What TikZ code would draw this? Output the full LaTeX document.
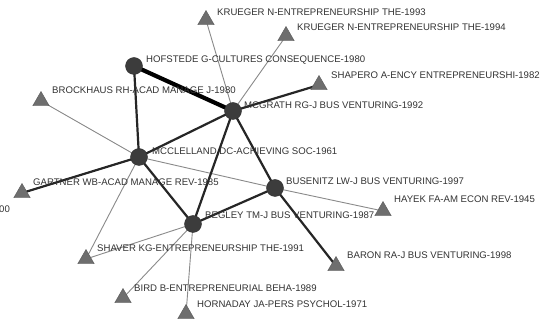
\documentclass[tikz,border=0pt]{standalone}
\usepackage{fontspec}
\setmainfont{Liberation Sans}
\usetikzlibrary{shapes.geometric}
\definecolor{nodegray}{HTML}{3C3C3C}
\definecolor{trigray}{HTML}{6E6E6E}
\definecolor{thinedge}{HTML}{8A8A8A}
\definecolor{labelcol}{HTML}{333333}
\pgfdeclarelayer{paper}
\pgfdeclarelayer{edges}
\pgfsetlayers{paper,edges,main}
\begin{document}
\begin{tikzpicture}[x=1pt,y=-1pt,
  hub/.style={circle,fill=nodegray,draw=nodegray!80!black,inner sep=0pt,minimum size=17pt},
  tri/.style={regular polygon,regular polygon sides=3,fill=trigray,draw=trigray!80!black,inner sep=0pt,minimum size=19pt},
  lab/.style={anchor=west,inner sep=0pt,text=labelcol,font=\fontsize{9.6}{11}\selectfont},
  thin/.style={draw=thinedge,line width=0.9pt},
  mid/.style={draw=black!85,line width=2.2pt},
  thick/.style={draw=black,line width=4.2pt}]
\useasboundingbox (0,0) rectangle (542,323);
\begin{pgfonlayer}{paper}
\fill[white] (0,0) rectangle (542,323);
\end{pgfonlayer}
% nodes
\node[tri] (kr93) at (206,20) {};
\node[tri] (kr94) at (286,36) {};
\node[tri] (shap) at (319,85) {};
\node[tri] (broc) at (41,101) {};
\node[tri] (gart) at (22,193) {};
\node[tri] (hay) at (383,211) {};
\node[tri] (bar) at (336,266) {};
\node[tri] (shav) at (86,259) {};
\node[tri] (bird) at (123,298) {};
\node[tri] (horn) at (186,314) {};
\node[hub] (hof) at (134,66) {};
\node[hub] (mcg) at (233,111) {};
\node[hub] (mcc) at (139,157) {};
\node[hub] (bus) at (275,188) {};
\node[hub] (beg) at (193,224) {};
% edges
\begin{pgfonlayer}{edges}
\draw[thin] (kr93.center) -- (mcg.center);
\draw[thin] (kr94.center) -- (mcg.center);
\draw[thin] (broc.center) -- (mcc.center);
\draw[thin] (mcc.center) -- (bus.center);
\draw[thin] (mcc.center) -- (shav.center);
\draw[thin] (bus.center) -- (hay.center);
\draw[thin] (beg.center) -- (shav.center);
\draw[thin] (beg.center) -- (bird.center);
\draw[thin] (beg.center) -- (horn.center);
\draw[mid] (shap.center) -- (mcg.center);
\draw[mid] (hof.center) -- (mcc.center);
\draw[mid] (mcc.center) -- (mcg.center);
\draw[mid] (mcg.center) -- (beg.center);
\draw[mid] (mcg.center) -- (bus.center);
\draw[mid] (mcc.center) -- (gart.center);
\draw[mid] (mcc.center) -- (beg.center);
\draw[mid] (bus.center) -- (beg.center);
\draw[mid] (bus.center) -- (bar.center);
\draw[thick] (hof.center) -- (mcg.center);
\end{pgfonlayer}
% labels
\node[lab] (l1) at (217,12) {KRUEGER N-ENTREPRENEURSHIP THE-1993};
\node[lab] (l2) at (297,27) {KRUEGER N-ENTREPRENEURSHIP THE-1994};
\node[lab] (l3) at (146,60) {HOFSTEDE G-CULTURES CONSEQUENCE-1980};
\node[lab] (l4) at (331,75) {SHAPERO A-ENCY ENTREPRENEURSHI-1982};
\node[lab] (l5) at (52,90) {BROCKHAUS RH-ACAD MANAGE J-1980};
\node[lab] (l6) at (244,105) {MCGRATH RG-J BUS VENTURING-1992};
\node[lab] (l7) at (152,151) {MCCLELLAND DC-ACHIEVING SOC-1961};
\node[lab] (l8) at (33,182) {GARTNER WB-ACAD MANAGE REV-1985};
\node[lab] (l9) at (-1,209) {00};
\node[lab] (l10) at (286,181) {BUSENITZ LW-J BUS VENTURING-1997};
\node[lab] (l11) at (394,199) {HAYEK FA-AM ECON REV-1945};
\node[lab] (l12) at (205,215) {BEGLEY TM-J BUS VENTURING-1987};
\node[lab] (l13) at (97,248) {SHAVER KG-ENTREPRENEURSHIP THE-1991};
\node[lab] (l14) at (347,255) {BARON RA-J BUS VENTURING-1998};
\node[lab] (l15) at (134,288) {BIRD B-ENTREPRENEURIAL BEHA-1989};
\node[lab] (l16) at (197,304) {HORNADAY JA-PERS PSYCHOL-1971};
\end{tikzpicture}
\end{document}
